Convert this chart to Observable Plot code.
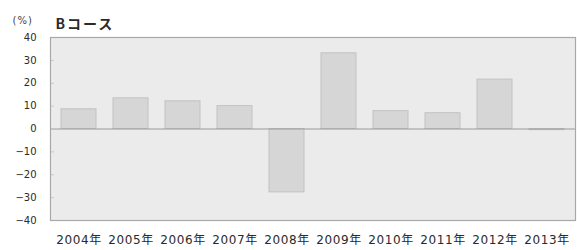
<!DOCTYPE html>
<html>
<head>
<meta charset="utf-8">
<script src="https://cdn.jsdelivr.net/npm/d3@7"></script>
<script src="https://cdn.jsdelivr.net/npm/@observablehq/plot@0.6"></script>
<style>
  html, body { margin: 0; padding: 0; background: #fff; }
  #chart svg { display: block; }
  #chart g[aria-label="x-axis tick label"] text { letter-spacing: 0.6px; }
  #chart g.title text { letter-spacing: 2px; }
  #chart g.unit text { letter-spacing: 1px; }
</style>
</head>
<body>
<div id="chart"></div>
<script>
const years = ["2004年","2005年","2006年","2007年","2008年","2009年","2010年","2011年","2012年","2013年"];
const values = [8.6, 13.4, 12.1, 10.0, -27.7, 33.1, 7.8, 6.9, 21.6, -0.5];
const yTicks = [-40, -30, -20, -10, 0, 10, 20, 30, 40];
const title = "Bコース";
const unit = "(%)";

const data = years.map((y, i) => ({year: y, value: values[i]}));

const chart = Plot.plot({
  width: 577,
  height: 250,
  marginLeft: 50,
  marginRight: 2,
  marginTop: 37,
  marginBottom: 30,
  style: {background: "#fff", color: "#2a2a2a", fontFamily: "'DejaVu Sans', 'Noto Sans CJK JP', sans-serif"},
  x: {domain: years, paddingInner: 0.33, paddingOuter: 0.17, label: null},
  y: {domain: [-40, 40], label: null},
  marks: [
    Plot.frame({fill: "#ebebeb", stroke: null}),
    Plot.barY(data, {x: "year", y: "value", fill: "#d6d6d6", stroke: "#c2c2c2", strokeWidth: 1}),
    Plot.ruleY([0], {stroke: "#9a9a9a", strokeWidth: 1.2}),
    Plot.tickY(yTicks, {y: d => d, stroke: "#c8c8c8", insetRight: 521}),
    Plot.frame({stroke: "#a8a8a8", strokeWidth: 1.2}),
    Plot.axisY({ticks: yTicks, tickSize: 0, tickPadding: 14, fontSize: 10}),
    Plot.axisX({tickSize: 0, tickPadding: 15, fontSize: 12}),
    Plot.text([title], {frameAnchor: "top-left", text: d => d, dx: 5, dy: -18, textAnchor: "start", fontSize: 14, fontWeight: "bold", fill: "#2a2a2a", fontFamily: "'Noto Sans CJK JP', sans-serif", className: "title"}),
    Plot.text([unit], {frameAnchor: "top-left", text: d => d, dx: -38, dy: -21, textAnchor: "start", fontSize: 10, fill: "#444", className: "unit"})
  ]
});
document.getElementById("chart").appendChild(chart);
</script>
</body>
</html>
